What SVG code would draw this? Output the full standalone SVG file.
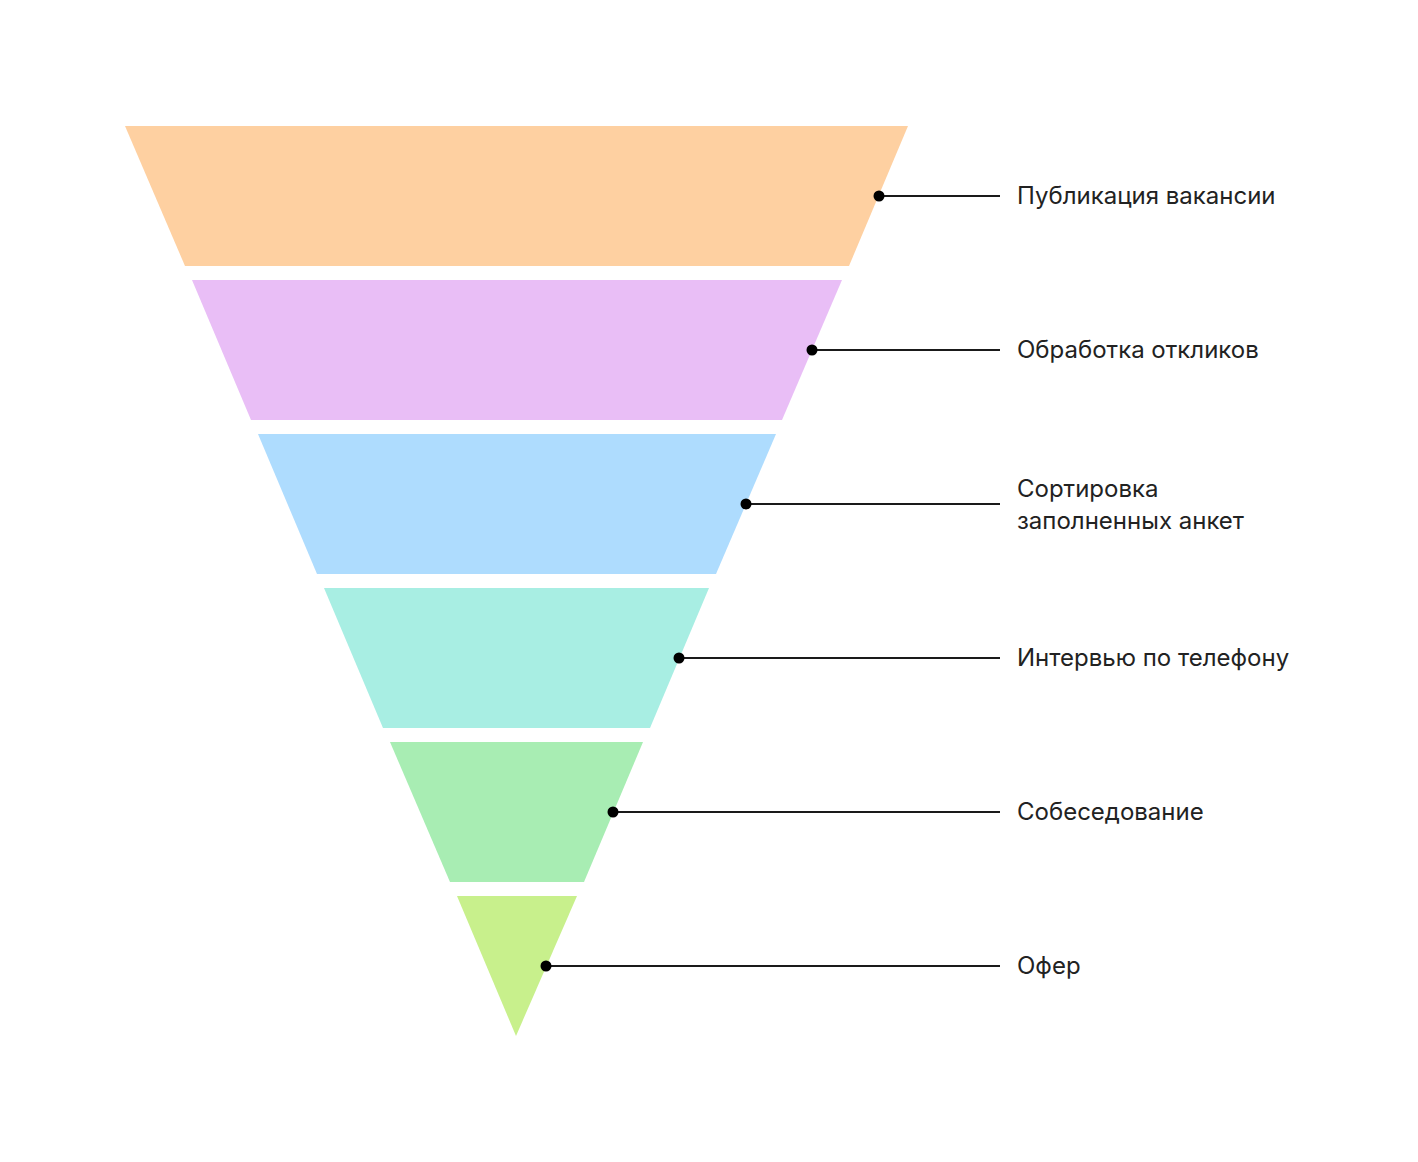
<svg xmlns="http://www.w3.org/2000/svg" width="1418" height="1162" viewBox="0 0 1418 1162">
<style>
.lbl{font-family:Inter,"Noto Sans","Liberation Sans",sans-serif;font-size:24px;fill:#222222}
.ln{stroke:#1a1a1a;stroke-width:2;fill:none}
.dot{fill:#000000}
</style>
<rect width="1418" height="1162" fill="#ffffff"/>
<g id="band1"><polygon points="125,126 908,126 849,266 185,266" fill="#FED0A1"/></g>
<g id="band2"><polygon points="192,280 842,280 782,420 251,420" fill="#E9BEF6"/></g>
<g id="band3"><polygon points="258,434 776,434 716,574 317,574" fill="#AEDCFE"/></g>
<g id="band4"><polygon points="324,588 709,588 650,728 383,728" fill="#A8EEE3"/></g>
<g id="band5"><polygon points="390,742 643,742 584,882 450,882" fill="#A8EDB3"/></g>
<g id="band6"><polygon points="457,896 577,896 516,1036" fill="#C8F08C"/></g>
<g id="connectors">
<line class="ln" x1="879" y1="196" x2="1000" y2="196"/><circle class="dot" cx="879" cy="196" r="5.5"/>
<line class="ln" x1="812" y1="350" x2="1000" y2="350"/><circle class="dot" cx="812" cy="350" r="5.5"/>
<line class="ln" x1="746" y1="504" x2="1000" y2="504"/><circle class="dot" cx="746" cy="504" r="5.5"/>
<line class="ln" x1="679" y1="658" x2="1000" y2="658"/><circle class="dot" cx="679" cy="658" r="5.5"/>
<line class="ln" x1="613" y1="812" x2="1000" y2="812"/><circle class="dot" cx="613" cy="812" r="5.5"/>
<line class="ln" x1="546" y1="966" x2="1000" y2="966"/><circle class="dot" cx="546" cy="966" r="5.5"/>
</g>
<g id="labels">
<text class="lbl" x="1017" y="204">Публикация вакансии</text>
<text class="lbl" x="1017" y="358">Обработка откликов</text>
<text class="lbl" x="1017" y="497">Сортировка</text>
<text class="lbl" x="1017" y="529">заполненных анкет</text>
<text class="lbl" x="1017" y="666">Интервью по телефону</text>
<text class="lbl" x="1017" y="820">Собеседование</text>
<text class="lbl" x="1017" y="974">Офер</text>
</g>
</svg>
